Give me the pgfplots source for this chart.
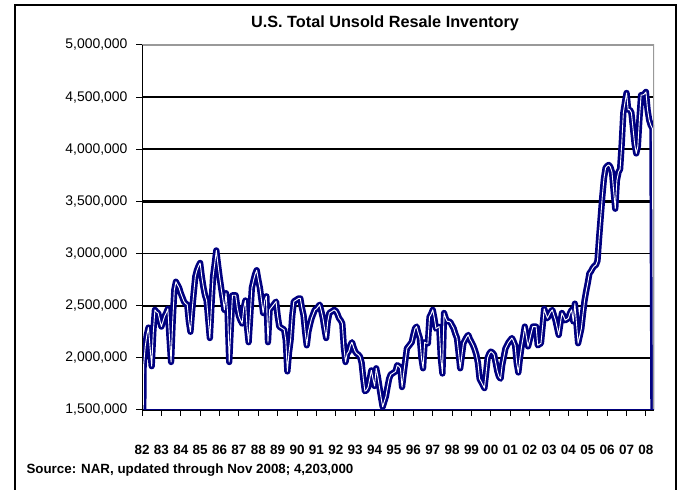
\documentclass[border=0pt]{standalone}
\usepackage{fontspec}
\setmainfont{Liberation Sans}
\usepackage{pgfplots}
\pgfplotsset{compat=1.18}
\definecolor{navyline}{RGB}{0,0,128}
\begin{document}
\begin{tikzpicture}[x=1bp,y=1bp]
\useasboundingbox (0,0) rectangle (686,490);
\draw[black, line width=1.5bp] (15,-10) -- (15,485) -- (676,485) -- (676,-10);
\node[font=\bfseries\fontsize{16.3}{16.3}\selectfont] at (385,467) {U.S. Total Unsold Resale Inventory};
\node[anchor=west, font=\bfseries\fontsize{13.4}{13.4}\selectfont] at (23,20) {Source: NAR, updated through Nov 2008; 4,203,000};
\begin{axis}[
  at={(142bp,80bp)}, anchor=south west,
  width=512bp, height=365bp, scale only axis,
  xmin=0, xmax=317, ymin=1.5, ymax=5,
  axis line style={draw=none},
  ytick={1.5,2,2.5,3,3.5,4,4.5,5},
  yticklabels={{1,500,000},{2,000,000},{2,500,000},{3,000,000},{3,500,000},{4,000,000},{4,500,000},{5,000,000}},
  xtick={0,12,...,312},
  xticklabels={82,83,84,85,86,87,88,89,90,91,92,93,94,95,96,97,98,99,00,01,02,03,04,05,06,07,08},
  xtick pos=bottom, ytick pos=left, tick align=outside,
  major tick length=6bp,
  tick style={black, line width=1bp},
  yticklabel style={font=\fontsize{14}{14}\selectfont, xshift=-5bp},
  xticklabel style={font=\bfseries\fontsize{13.5}{13.5}\selectfont, yshift=-26bp},
  ymajorgrids, major grid style={black, line width=1.6bp},
  extra y ticks={3.5}, extra y tick labels={},
  extra y tick style={major grid style={black, line width=3.6bp}},
  clip=true,
]
\addplot[navyline, line width=2.7bp, double=white, double distance=0.9bp, line join=round, mark=none] coordinates {
(0,0) (1,1.93) (2,2.11) (3,2.22) (4,2.29) (5,2.10) (6,1.92) (7,2.25) (8,2.46) (9,2.44)
(10,2.43) (11,2.36) (12,2.30) (13,2.35) (14,2.40) (15,2.43) (16,2.47) (17,2.20) (18,1.96) (19,2.35)
(20,2.65) (21,2.73) (22,2.70) (23,2.67) (24,2.62) (25,2.58) (26,2.54) (27,2.52) (28,2.51) (29,2.35)
(30,2.25) (31,2.45) (32,2.62) (33,2.78) (34,2.84) (35,2.88) (36,2.91) (37,2.78) (38,2.68) (39,2.60)
(40,2.55) (41,2.37) (42,2.19) (43,2.50) (44,2.78) (45,2.90) (46,3.03) (47,2.90) (48,2.78) (49,2.67)
(50,2.57) (51,2.46) (52,2.62) (53,2.43) (54,1.96) (55,2.30) (56,2.60) (57,2.60) (58,2.60) (59,2.48)
(60,2.40) (61,2.36) (62,2.33) (63,2.48) (64,2.55) (65,2.30) (66,2.15) (67,2.40) (68,2.67) (69,2.74)
(70,2.80) (71,2.84) (72,2.75) (73,2.67) (74,2.55) (75,2.43) (76,2.55) (77,2.59) (78,2.15) (79,2.46)
(80,2.48) (81,2.50) (82,2.52) (83,2.54) (84,2.40) (85,2.30) (86,2.29) (87,2.28) (88,2.27) (89,2.17)
(90,1.87) (91,2.05) (92,2.17) (93,2.40) (94,2.54) (95,2.55) (96,2.56) (97,2.57) (98,2.57) (99,2.48)
(100,2.41) (101,2.25) (102,2.12) (103,2.25) (104,2.32) (105,2.38) (106,2.42) (107,2.46) (108,2.47) (109,2.49)
(110,2.51) (111,2.45) (112,2.38) (113,2.28) (114,2.19) (115,2.35) (116,2.43) (117,2.44) (118,2.45) (119,2.46)
(120,2.45) (121,2.42) (122,2.38) (123,2.36) (124,2.33) (125,2.10) (126,1.96) (127,2.04) (128,2.06) (129,2.12)
(130,2.15) (131,2.10) (132,2.06) (133,2.04) (134,2.03) (135,2.01) (136,1.95) (137,1.80) (138,1.68) (139,1.69)
(140,1.72) (141,1.80) (142,1.88) (143,1.80) (144,1.73) (145,1.90) (146,1.82) (147,1.72) (148,1.62) (149,1.53)
(150,1.58) (151,1.63) (152,1.72) (153,1.80) (154,1.84) (155,1.85) (156,1.86) (157,1.87) (158,1.93) (159,1.92)
(160,1.90) (161,1.72) (162,1.85) (163,1.97) (164,2.09) (165,2.11) (166,2.13) (167,2.15) (168,2.22) (169,2.28)
(170,2.30) (171,2.24) (172,2.19) (173,2.00) (174,1.90) (175,2.15) (176,2.14) (177,2.14) (178,2.39) (179,2.42)
(180,2.46) (181,2.38) (182,2.28) (183,2.29) (184,2.30) (185,2.00) (186,1.85) (187,2.43) (188,2.38) (189,2.35)
(190,2.35) (191,2.34) (192,2.31) (193,2.28) (194,2.23) (195,2.19) (196,2.05) (197,1.90) (198,2.02) (199,2.14)
(200,2.17) (201,2.20) (202,2.22) (203,2.18) (204,2.15) (205,2.12) (206,2.08) (207,2.03) (208,1.95) (209,1.80)
(210,1.77) (211,1.74) (212,1.71) (213,1.85) (214,2.00) (215,2.04) (216,2.06) (217,2.05) (218,2.03) (219,1.95)
(220,1.87) (221,1.82) (222,1.80) (223,1.93) (224,2.01) (225,2.09) (226,2.12) (227,2.15) (228,2.17) (229,2.19)
(230,2.16) (231,2.12) (232,1.95) (233,1.86) (234,2.00) (235,2.11) (236,2.20) (237,2.30) (238,2.20) (239,2.11)
(240,2.17) (241,2.24) (242,2.30) (243,2.30) (244,2.30) (245,2.12) (246,2.13) (247,2.14) (248,2.30) (249,2.47)
(250,2.42) (251,2.38) (252,2.41) (253,2.44) (254,2.46) (255,2.41) (256,2.36) (257,2.29) (258,2.22) (259,2.33)
(260,2.43) (261,2.40) (262,2.36) (263,2.37) (264,2.38) (265,2.43) (266,2.46) (267,2.35) (268,2.52) (269,2.33)
(270,2.14) (271,2.21) (272,2.28) (273,2.42) (274,2.55) (275,2.64) (276,2.72) (277,2.81) (278,2.83) (279,2.86)
(280,2.88) (281,2.89) (282,2.93) (283,3.15) (284,3.35) (285,3.55) (286,3.72) (287,3.82) (288,3.84) (289,3.85)
(290,3.83) (291,3.78) (292,3.60) (293,3.43) (294,3.70) (295,3.78) (296,3.81) (297,4.05) (298,4.35) (299,4.45)
(300,4.54) (301,4.38) (302,4.38) (303,4.35) (304,4.20) (305,4.05) (306,3.96) (307,4.03) (308,4.30) (309,4.52)
(310,4.52) (311,4.53) (312,4.55) (313,4.38) (314,4.28) (315,4.23) (316,4.20) (317,0)
};
\draw[gray!80, line width=1.5bp] (rel axis cs:0,1) -- (rel axis cs:1,1) -- (rel axis cs:1,0);
\draw[navyline, line width=2bp] (rel axis cs:0,0) -- (rel axis cs:1,0);
\draw[black, line width=2.5bp] (rel axis cs:0,0) -- (rel axis cs:0,1);
\end{axis}
\end{tikzpicture}
\end{document}
